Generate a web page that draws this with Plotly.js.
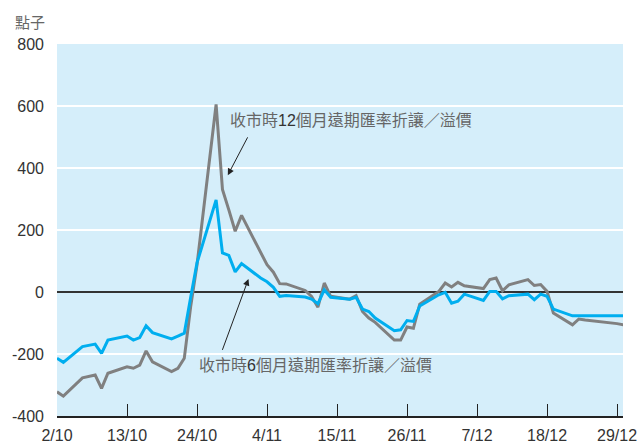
<!DOCTYPE html>
<html><head><meta charset="utf-8">
<script src="https://cdn.plot.ly/plotly-3.0.1.min.js"></script>
<style>html,body{margin:0;padding:0;background:#fff}</style>
</head><body><div id="chart" style="width:639px;height:444px"></div>
<script>
const dates = [
 '2008-10-02','2008-10-03','2008-10-06','2008-10-08','2008-10-09','2008-10-10',
 '2008-10-13','2008-10-14','2008-10-15','2008-10-16','2008-10-17',
 '2008-10-20','2008-10-21','2008-10-22','2008-10-23','2008-10-24',
 '2008-10-27','2008-10-28','2008-10-29','2008-10-30','2008-10-31',
 '2008-11-03','2008-11-04','2008-11-05','2008-11-06','2008-11-07',
 '2008-11-10','2008-11-11','2008-11-12','2008-11-13','2008-11-14',
 '2008-11-17','2008-11-18','2008-11-19','2008-11-20','2008-11-21',
 '2008-11-24','2008-11-25','2008-11-26','2008-11-27','2008-11-28',
 '2008-12-01','2008-12-02','2008-12-03','2008-12-04','2008-12-05',
 '2008-12-08','2008-12-09','2008-12-10','2008-12-11','2008-12-12',
 '2008-12-15','2008-12-16','2008-12-17','2008-12-18','2008-12-19',
 '2008-12-22','2008-12-23','2008-12-24','2008-12-29','2008-12-30'
];
const fwd6m = [
 -214,-227,-176,-168,-198,-155,
 -142,-155,-147,-109,-131,
 -151,-142,-133,-18,94,
 297,126,118,65,92,
 45,33,15,-14,-11,
 -16,-23,-38,7,-17,
 -23,-17,-55,-63,-84,
 -125,-122,-92,-95,-45,
 -9,-1,-36,-30,-7,
 -27,2,2,-22,-12,
 -7,-25,-7,-14,-55,
 -77,-77,-77,-77,-77
];
const fwd12m = [
 -322,-336,-277,-268,-311,-262,
 -241,-246,-236,-190,-225,
 -257,-246,-214,-48,88,
 605,331,265,196,247,
 126,88,64,27,26,
 5,-14,-49,29,-14,
 -23,-12,-63,-84,-98,
 -155,-155,-113,-117,-39,
 2,29,16,31,20,
 11,40,45,4,23,
 40,21,24,2,-68,
 -106,-87,-90,-102,-106
];
const xTickVals = ['2008-10-02','2008-10-13','2008-10-24','2008-11-04','2008-11-15','2008-11-26','2008-12-07','2008-12-18','2008-12-29'];
const xTickText = ['2/10','13/10','24/10','4/11','15/11','26/11','7/12','18/12','29/12'];
const yTickVals = [-400,-200,0,200,400,600,800];
const yTickText = ['-400','-200','0','200','400','600','800'];
const label12m = '收市時<span style="color:#333">12</span>個月遠期匯率折讓／溢價';
const label6m = '收市時<span style="color:#333">6</span>個月遠期匯率折讓／溢價';
const unitLabel = '點子';

const FONT = 'Liberation Sans, Arial, Noto Sans CJK TC, sans-serif';

const traces = [
 {x: dates, y: fwd12m, type: 'scatter', mode: 'lines', line: {color: '#808080', width: 3}, hoverinfo: 'skip'},
 {x: dates, y: fwd6m, type: 'scatter', mode: 'lines', line: {color: '#00AEEF', width: 3}, hoverinfo: 'skip'}
];

const layout = {
 width: 639, height: 444,
 margin: {l: 57, r: 16, t: 44, b: 28},
 paper_bgcolor: '#ffffff',
 plot_bgcolor: '#D5EEFA',
 showlegend: false,
 font: {family: FONT, size: 16, color: '#333'},
 xaxis: {
  type: 'date', range: ['2008-10-02', '2008-12-29 22:30'],
  tickmode: 'array', tickvals: xTickVals, ticktext: xTickText,
  ticks: 'inside', ticklen: 12, tickwidth: 1, tickcolor: '#222',
  showline: true, linecolor: '#222', linewidth: 1.5,
  showgrid: false, zeroline: false,
  tickfont: {family: FONT, size: 16, color: '#333'},
  ticklabelstandoff: 4, fixedrange: true
 },
 yaxis: {
  range: [-400, 800],
  tickmode: 'array', tickvals: yTickVals, ticktext: yTickText,
  ticks: '', showline: false,
  showgrid: true, gridcolor: '#ffffff', gridwidth: 2,
  zeroline: true, zerolinecolor: '#333', zerolinewidth: 2,
  tickfont: {family: FONT, size: 16, color: '#333'},
  ticklabelstandoff: 12, fixedrange: true
 },
 annotations: [
  {xref: 'paper', yref: 'paper', x: 0.3028, y: 0.7955, xanchor: 'left', yanchor: 'middle',
   text: label12m, showarrow: false, font: {family: FONT, size: 16, color: '#666'}},
  {xref: 'paper', yref: 'paper', x: 0.2475, y: 0.1364, xanchor: 'left', yanchor: 'middle',
   text: label6m, showarrow: false, font: {family: FONT, size: 16, color: '#666'}},
  {xref: 'paper', yref: 'paper', x: -0.0778, y: 1.0565, xanchor: 'left', yanchor: 'middle',
   text: unitLabel, showarrow: false, font: {family: FONT, size: 15, color: '#666'}},
  {xref: 'x', yref: 'y', x: '2008-10-28 20:10', y: 377, text: '', showarrow: true,
   ax: 20.6, ay: -39.3, arrowhead: 2, arrowsize: 1.3, arrowwidth: 1, arrowcolor: '#222', standoff: 0},
  {xref: 'x', yref: 'y', x: '2008-11-01 02:00', y: 42, text: '', showarrow: true,
   ax: -26.6, ay: 72.4, arrowhead: 2, arrowsize: 1.3, arrowwidth: 1, arrowcolor: '#222', standoff: 0}
 ]
};

Plotly.newPlot('chart', traces, layout, {staticPlot: true, displayModeBar: false});
</script>
</body></html>
